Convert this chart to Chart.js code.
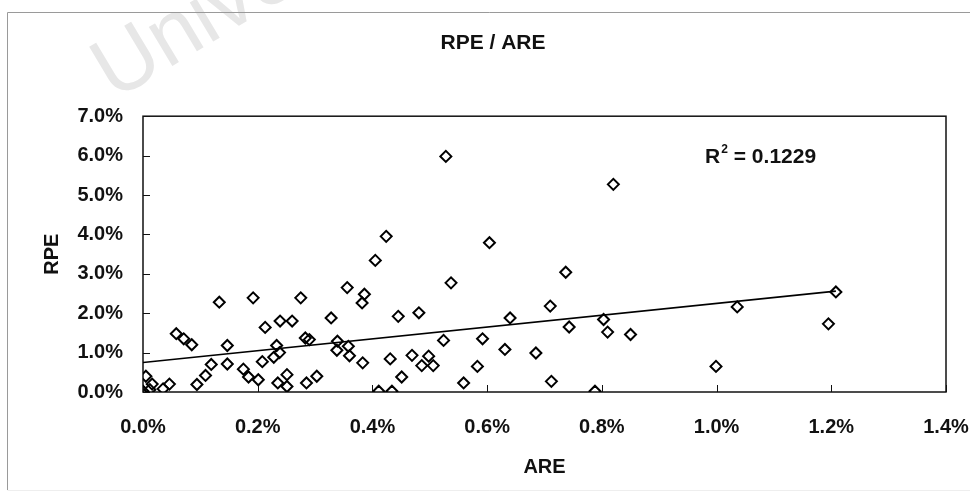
<!DOCTYPE html>
<html><head><meta charset="utf-8">
<script src="https://cdn.jsdelivr.net/npm/chart.js@4.4.1/dist/chart.umd.min.js"></script>
<style>html,body{margin:0;padding:0;background:#fff;}#wrap{width:970px;height:500px;position:relative;}</style>
</head><body><div id="wrap"><canvas id="c" width="970" height="500"></canvas></div>
<script>
// ARE (%) and RPE (%)
const areValues = [0.005,0.000,0.012,0.016,0.035,0.046,
  0.058,0.071,0.085,0.094,0.109,0.119,
  0.133,0.147,0.147,0.175,0.184,0.192,0.201,0.208,0.213,
  0.228,0.233,0.238,0.239,0.235,0.251,0.251,0.260,
  0.275,0.283,0.290,0.285,0.303,
  0.328,0.339,0.338,0.356,0.358,0.360,
  0.386,0.382,0.383,0.405,0.424,
  0.411,0.434,0.431,0.445,0.451,
  0.481,0.469,0.498,0.486,0.506,
  0.528,0.524,0.537,0.559,0.583,0.592,
  0.604,0.631,0.640,0.685,0.710,0.712,
  0.737,0.743,0.788,0.803,0.810,0.820,0.850,
  0.999,1.036,1.195,1.208];
const rpeValues = [0.40,0.02,0.06,0.20,0.08,0.20,
  1.48,1.35,1.20,0.19,0.42,0.70,
  2.28,1.18,0.71,0.58,0.38,2.39,0.31,0.77,1.64,
  0.88,1.18,1.00,1.80,0.23,0.44,0.14,1.80,
  2.39,1.37,1.33,0.23,0.40,
  1.88,1.29,1.06,2.65,1.16,0.92,
  2.48,2.26,0.74,3.34,3.95,
  0.02,0.02,0.84,1.92,0.38,
  2.01,0.93,0.91,0.67,0.67,
  5.98,1.31,2.77,0.23,0.65,1.35,
  3.79,1.08,1.88,0.99,2.18,0.27,
  3.04,1.65,0.02,1.84,1.52,5.27,1.46,
  0.65,2.16,1.73,2.54];
// Linear trendline end points (as drawn in the reference)
const trendAre = [0, 1.208];
const trendRpe = [0.75, 2.56];
const xTickValues = [0, 0.2, 0.4, 0.6, 0.8, 1.0, 1.2, 1.4];
const yTickValues = [0, 1, 2, 3, 4, 5, 6, 7];
const rSquared = '0.1229';
const chartTitle = 'RPE / ARE';
const xTitle = 'ARE';
const yTitle = 'RPE';

const FONT = '"Liberation Sans", Arial, sans-serif';
const pct = v => Number(v).toFixed(1) + '%';

const framePlugin = {
  id: 'frame',
  beforeDraw(chart) {
    const ctx = chart.ctx;
    ctx.save();
    ctx.fillStyle = '#fff';
    ctx.fillRect(0, 0, chart.width, chart.height);
    // faint scan watermark
    ctx.translate(114, 101);
    ctx.rotate(-31 * Math.PI / 180);
    ctx.fillStyle = '#e7e7e7';
    ctx.font = '86px ' + FONT;
    ctx.textBaseline = 'alphabetic';
    ctx.fillText('University of Cape Town', 0, 0);
    ctx.restore();
    ctx.save();
    ctx.strokeStyle = '#9a9a9a';
    ctx.lineWidth = 1;
    ctx.beginPath();
    ctx.moveTo(975, 12.5); ctx.lineTo(7.5, 12.5); ctx.lineTo(7.5, 490);
    ctx.stroke();
    ctx.strokeStyle = '#eeeeee';
    ctx.beginPath();
    ctx.moveTo(7.5, 490.5); ctx.lineTo(975, 490.5);
    ctx.stroke();
    ctx.restore();
  },
  beforeDatasetsDraw(chart) {
    const {ctx, chartArea: a, scales: {x, y}} = chart;
    ctx.save();
    ctx.strokeStyle = '#111';
    ctx.lineWidth = 1.5;
    ctx.strokeRect(a.left, a.top, a.right - a.left, a.bottom - a.top);
    ctx.lineWidth = 1;
    ctx.beginPath();
    yTickValues.forEach(v => {
      const py = Math.round(y.getPixelForValue(v)) + 0.5;
      ctx.moveTo(a.left, py); ctx.lineTo(a.left + 7, py);
    });
    xTickValues.forEach(v => {
      const px = Math.round(x.getPixelForValue(v)) + 0.5;
      ctx.moveTo(px, a.bottom); ctx.lineTo(px, a.bottom - 7);
    });
    ctx.stroke();
    ctx.restore();
  },
  afterDatasetsDraw(chart) {
    const {ctx, scales: {x, y}} = chart;
    ctx.save();
    ctx.fillStyle = '#111';
    ctx.textBaseline = 'middle';
    ctx.textAlign = 'left';
    let px = x.getPixelForValue(0.98);
    const py = y.getPixelForValue(5.95);
    ctx.font = 'bold 21px ' + FONT;
    ctx.fillText('R', px, py);
    px += ctx.measureText('R').width + 1;
    ctx.font = 'bold 12px ' + FONT;
    ctx.fillText('2', px, py - 8);
    px += ctx.measureText('2').width;
    ctx.font = 'bold 21px ' + FONT;
    ctx.fillText(' = ' + rSquared, px, py);
    ctx.restore();
  }
};

const points = areValues.map((a, i) => ({x: a, y: rpeValues[i]}));
const trend = trendAre.map((a, i) => ({x: a, y: trendRpe[i]}));

new Chart(document.getElementById('c'), {
  type: 'scatter',
  data: {
    datasets: [
      {
        label: 'RPE',
        data: points,
        pointStyle: 'rectRot',
        pointRadius: 5.5,
        borderWidth: 2,
        borderColor: '#000',
        backgroundColor: 'rgba(0,0,0,0)',
        order: 1
      },
      {
        type: 'line',
        label: 'Trend',
        data: trend,
        showLine: true,
        pointRadius: 0,
        borderColor: '#000',
        borderWidth: 1.6,
        fill: false,
        order: 2
      }
    ]
  },
  options: {
    responsive: false,
    animation: false,
    devicePixelRatio: 1,
    events: [],
    layout: {padding: {left: 40, right: 24, top: 0, bottom: 0}},
    plugins: {
      legend: {display: false},
      tooltip: {enabled: false},
      title: {
        display: true,
        text: chartTitle,
        color: '#111',
        font: {family: FONT, size: 21, weight: 'bold'},
        padding: {top: 31, bottom: 60}
      }
    },
    scales: {
      x: {
        type: 'linear',
        min: 0, max: 1.4,
        afterBuildTicks: s => { s.ticks = xTickValues.map(v => ({value: v})); },
        afterFit: s => { s.height = 108; s.paddingLeft = 0; s.paddingRight = 0; },
        grid: {display: false, drawTicks: false},
        border: {display: false},
        ticks: {
          callback: pct,
          color: '#111',
          font: {family: FONT, size: 20, weight: 'bold'},
          padding: 23,
          maxRotation: 0,
          autoSkip: false
        },
        title: {
          display: true,
          text: xTitle,
          color: '#111',
          font: {family: FONT, size: 20, weight: 'bold'},
          padding: {top: 0, bottom: 21}
        }
      },
      y: {
        type: 'linear',
        min: 0, max: 7,
        afterBuildTicks: s => { s.ticks = yTickValues.map(v => ({value: v})); },
        afterFit: s => { s.width = 103; },
        grid: {display: false, drawTicks: false},
        border: {display: false},
        ticks: {
          callback: pct,
          color: '#111',
          font: {family: FONT, size: 20, weight: 'bold'},
          padding: 20,
          autoSkip: false
        },
        title: {
          display: true,
          text: yTitle,
          color: '#111',
          font: {family: FONT, size: 20, weight: 'bold'},
          padding: {top: 0, bottom: 0}
        }
      }
    }
  },
  plugins: [framePlugin]
});
</script>
</body></html>
